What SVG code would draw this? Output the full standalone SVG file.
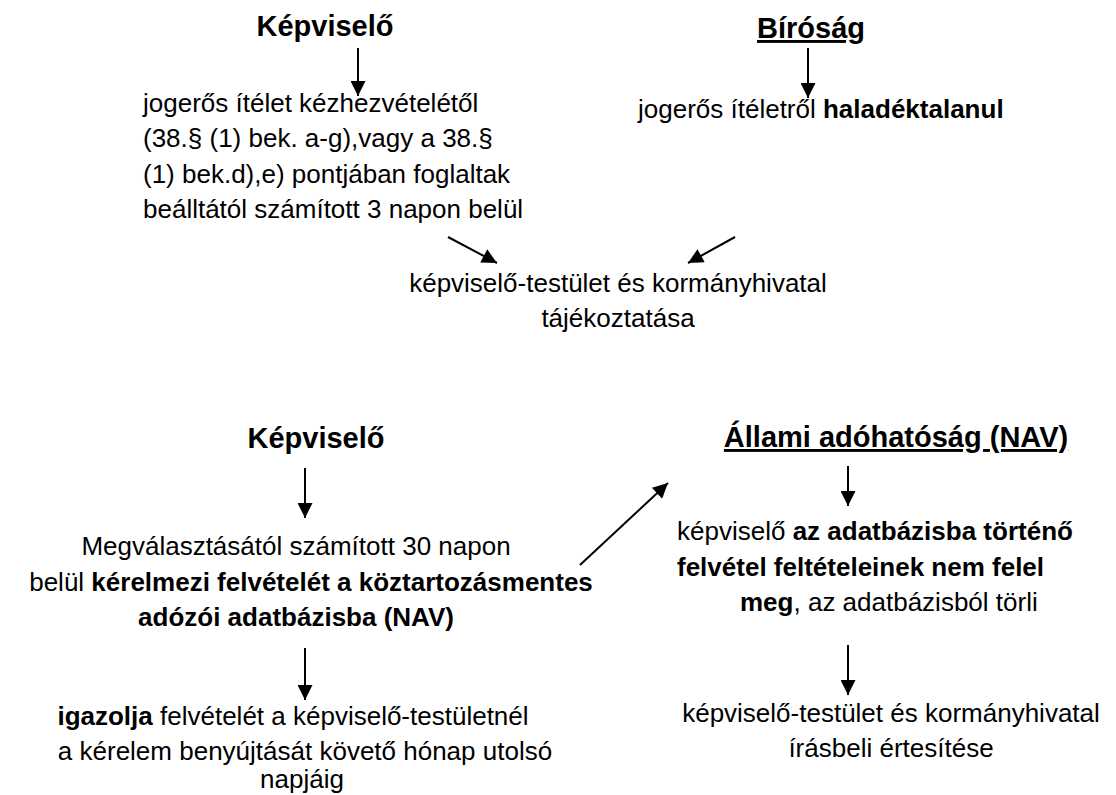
<svg xmlns="http://www.w3.org/2000/svg" width="1116" height="795" viewBox="0 0 1116 795">
<style>
text{font-family:"Liberation Sans",Arial,sans-serif;font-size:26px;fill:#000}
.h{font-size:29px;font-weight:bold}
.b{font-weight:bold}
.u{text-decoration:underline}
.c{text-anchor:middle}
.arr{stroke:#000;stroke-width:2;fill:none;marker-end:url(#ah)}
</style>
<defs>
<marker id="ah" viewBox="0 0 10 10" refX="10" refY="5" markerUnits="userSpaceOnUse" markerWidth="19" markerHeight="15" orient="auto">
<path d="M0,0 L10,5 L0,10 z" fill="#000"/>
</marker>
</defs>
<rect width="1116" height="795" fill="#fff"/>
<g id="kepviselo1"><text class="h c" x="325" y="36">Képviselő</text></g>
<g id="kepviselo1-hatarido">
<text x="143" y="112">jogerős ítélet kézhezvételétől</text>
<text x="143" y="147">(38.§ (1) bek. a-g),vagy a 38.§</text>
<text x="143" y="183">(1) bek.d),e) pontjában foglaltak</text>
<text x="143" y="218">beálltától számított 3 napon belül</text>
</g>
<g id="birosag"><text class="h u c" x="811" y="38">Bíróság</text></g>
<g id="birosag-hatarido"><text x="638" y="118">jogerős ítéletről <tspan class="b">haladéktalanul</tspan></text></g>
<g id="tajekoztatas">
<text class="c" x="618" y="292">képviselő-testület és kormányhivatal</text>
<text class="c" x="618" y="327">tájékoztatása</text>
</g>
<g id="kepviselo2"><text class="h c" x="316" y="448">Képviselő</text></g>
<g id="kerelem">
<text class="c" x="296" y="555">Megválasztásától számított 30 napon</text>
<text class="c" x="311" y="591">belül <tspan class="b">kérelmezi felvételét a köztartozásmentes</tspan></text>
<text class="c b" x="296" y="626">adózói adatbázisba (NAV)</text>
</g>
<g id="igazolas">
<text class="c" x="293" y="725"><tspan class="b">igazolja</tspan> felvételét a képviselő-testületnél</text>
<text class="c" x="305" y="760">a kérelem benyújtását követő hónap utolsó</text>
<text class="c" x="302" y="788">napjáig</text>
</g>
<g id="nav"><text class="h u c" x="896" y="447">Állami adóhatóság (NAV)</text></g>
<g id="torles">
<text x="677" y="540">képviselő <tspan class="b">az adatbázisba történő</tspan></text>
<text class="b" x="677" y="576">felvétel feltételeinek nem felel</text>
<text x="740" y="611"><tspan class="b">meg</tspan>, az adatbázisból törli</text>
</g>
<g id="ertesites">
<text class="c" x="891" y="722">képviselő-testület és kormányhivatal</text>
<text class="c" x="891" y="757">írásbeli értesítése</text>
</g>
<g id="connectors">
<line class="arr" x1="358" y1="48" x2="358" y2="96"/>
<line class="arr" x1="808" y1="48" x2="808" y2="98"/>
<line class="arr" x1="448" y1="237" x2="497" y2="263"/>
<line class="arr" x1="735" y1="237" x2="688" y2="263"/>
<line class="arr" x1="305" y1="468" x2="305" y2="518"/>
<line class="arr" x1="305" y1="648" x2="305" y2="700"/>
<line class="arr" x1="580" y1="565" x2="668" y2="483"/>
<line class="arr" x1="848" y1="466" x2="848" y2="506"/>
<line class="arr" x1="848" y1="645" x2="848" y2="695"/>
</g>
</svg>
